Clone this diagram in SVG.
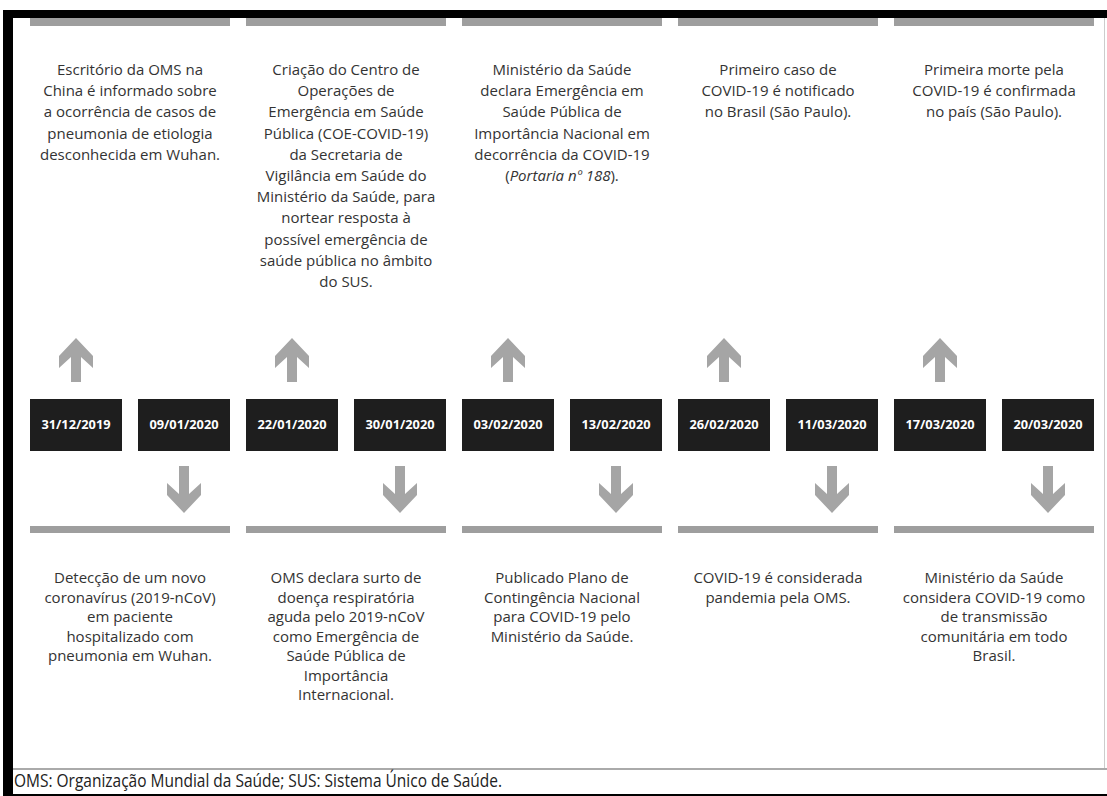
<svg xmlns="http://www.w3.org/2000/svg" xmlns:xlink="http://www.w3.org/1999/xlink" width="1107" height="796" viewBox="0 0 1107 796">
<style>
.t{font-family:"Open Sans","Liberation Sans",sans-serif;font-size:15px;fill:#333;text-anchor:middle}
.b{font-family:"Open Sans","Liberation Sans",sans-serif;font-size:15px;fill:#333;text-anchor:middle}
.d{font-family:"Open Sans","Liberation Sans",sans-serif;font-size:12.8px;font-weight:bold;fill:#fff;text-anchor:middle}
.box{fill:#1e1e1e}
.bar{fill:#9e9e9e}
.arr{fill:#a5a5a5}
.f{font-family:"Open Sans","Liberation Sans",sans-serif;font-size:18px;fill:#222}
</style>
<defs>
<polygon id="up" points="0,0 17,18 17,30 5,19 5,44 -5,44 -5,19 -17,30 -17,18"/>
<polygon id="down" points="-5,0 5,0 5,28 17,17 17,29 0,47 -17,29 -17,17 -5,28"/>
</defs>
<rect x="0" y="0" width="1107" height="796" fill="#fff"/>
<rect x="3" y="10" width="1104" height="8" fill="#000"/>
<rect x="3" y="10" width="10" height="786" fill="#000"/>
<rect x="1104" y="18" width="1" height="750" fill="#ccc"/>
<rect x="13" y="768" width="1094" height="2" fill="#aaa"/>
<rect x="3" y="794" width="1104" height="2" fill="#000"/>
<g id="bars">
<rect class="bar" x="30" y="18" width="200" height="8"/>
<rect class="bar" x="246" y="18" width="200" height="8"/>
<rect class="bar" x="462" y="18" width="200" height="8"/>
<rect class="bar" x="678" y="18" width="200" height="8"/>
<rect class="bar" x="894" y="18" width="200" height="8"/>
<rect class="bar" x="30" y="526" width="200" height="7"/>
<rect class="bar" x="246" y="526" width="200" height="7"/>
<rect class="bar" x="462" y="526" width="200" height="7"/>
<rect class="bar" x="678" y="526" width="200" height="7"/>
<rect class="bar" x="894" y="526" width="200" height="7"/>
</g>
<g id="connectors">
<use xlink:href="#up" class="arr" x="76" y="338"/>
<use xlink:href="#up" class="arr" x="292" y="338"/>
<use xlink:href="#up" class="arr" x="508" y="338"/>
<use xlink:href="#up" class="arr" x="724" y="338"/>
<use xlink:href="#up" class="arr" x="940" y="338"/>
<use xlink:href="#down" class="arr" x="184" y="466"/>
<use xlink:href="#down" class="arr" x="400" y="466"/>
<use xlink:href="#down" class="arr" x="616" y="466"/>
<use xlink:href="#down" class="arr" x="832" y="466"/>
<use xlink:href="#down" class="arr" x="1048" y="466"/>
</g>
<g id="d1"><rect class="box" x="30" y="399" width="92" height="52"/><text class="d" x="76" y="429">31/12/2019</text></g>
<g id="d2"><rect class="box" x="138" y="399" width="92" height="52"/><text class="d" x="184" y="429">09/01/2020</text></g>
<g id="d3"><rect class="box" x="246" y="399" width="92" height="52"/><text class="d" x="292" y="429">22/01/2020</text></g>
<g id="d4"><rect class="box" x="354" y="399" width="92" height="52"/><text class="d" x="400" y="429">30/01/2020</text></g>
<g id="d5"><rect class="box" x="462" y="399" width="92" height="52"/><text class="d" x="508" y="429">03/02/2020</text></g>
<g id="d6"><rect class="box" x="570" y="399" width="92" height="52"/><text class="d" x="616" y="429">13/02/2020</text></g>
<g id="d7"><rect class="box" x="678" y="399" width="92" height="52"/><text class="d" x="724" y="429">26/02/2020</text></g>
<g id="d8"><rect class="box" x="786" y="399" width="92" height="52"/><text class="d" x="832" y="429">11/03/2020</text></g>
<g id="d9"><rect class="box" x="894" y="399" width="92" height="52"/><text class="d" x="940" y="429">17/03/2020</text></g>
<g id="d10"><rect class="box" x="1002" y="399" width="92" height="52"/><text class="d" x="1048" y="429">20/03/2020</text></g>
<g id="top1"><text class="t" y="75"><tspan x="130">Escritório da OMS na</tspan><tspan x="130" dy="21.2">China é informado sobre</tspan><tspan x="130" dy="21.2">a ocorrência de casos de</tspan><tspan x="130" dy="21.2">pneumonia de etiologia</tspan><tspan x="130" dy="21.2">desconhecida em Wuhan.</tspan></text></g>
<g id="top2"><text class="t" y="75"><tspan x="346">Criação do Centro de</tspan><tspan x="346" dy="21.2">Operações de</tspan><tspan x="346" dy="21.2">Emergência em Saúde</tspan><tspan x="346" dy="21.2">Pública (COE-COVID-19)</tspan><tspan x="346" dy="21.2">da Secretaria de</tspan><tspan x="346" dy="21.2">Vigilância em Saúde do</tspan><tspan x="346" dy="21.2">Ministério da Saúde, para</tspan><tspan x="346" dy="21.2">nortear resposta à</tspan><tspan x="346" dy="21.2">possível emergência de</tspan><tspan x="346" dy="21.2">saúde pública no âmbito</tspan><tspan x="346" dy="21.2">do SUS.</tspan></text></g>
<g id="top3"><text class="t" y="75"><tspan x="562">Ministério da Saúde</tspan><tspan x="562" dy="21.2">declara Emergência em</tspan><tspan x="562" dy="21.2">Saúde Pública de</tspan><tspan x="562" dy="21.2">Importância Nacional em</tspan><tspan x="562" dy="21.2">decorrência da COVID-19</tspan><tspan x="562" dy="21.2">(<tspan font-style="italic">Portaria nº 188</tspan>).</tspan></text></g>
<g id="top4"><text class="t" y="75"><tspan x="778">Primeiro caso de</tspan><tspan x="778" dy="21.2">COVID-19 é notificado</tspan><tspan x="778" dy="21.2">no Brasil (São Paulo).</tspan></text></g>
<g id="top5"><text class="t" y="75"><tspan x="994">Primeira morte pela</tspan><tspan x="994" dy="21.2">COVID-19 é confirmada</tspan><tspan x="994" dy="21.2">no país (São Paulo).</tspan></text></g>
<g id="bot1"><text class="b" y="583"><tspan x="130">Detecção de um novo</tspan><tspan x="130" dy="19.5">coronavírus (2019-nCoV)</tspan><tspan x="130" dy="19.5">em paciente</tspan><tspan x="130" dy="19.5">hospitalizado com</tspan><tspan x="130" dy="19.5">pneumonia em Wuhan.</tspan></text></g>
<g id="bot2"><text class="b" y="583"><tspan x="346">OMS declara surto de</tspan><tspan x="346" dy="19.5">doença respiratória</tspan><tspan x="346" dy="19.5">aguda pelo 2019-nCoV</tspan><tspan x="346" dy="19.5">como Emergência de</tspan><tspan x="346" dy="19.5">Saúde Pública de</tspan><tspan x="346" dy="19.5">Importância</tspan><tspan x="346" dy="19.5">Internacional.</tspan></text></g>
<g id="bot3"><text class="b" y="583"><tspan x="562">Publicado Plano de</tspan><tspan x="562" dy="19.5">Contingência Nacional</tspan><tspan x="562" dy="19.5">para COVID-19 pelo</tspan><tspan x="562" dy="19.5">Ministério da Saúde.</tspan></text></g>
<g id="bot4"><text class="b" y="583"><tspan x="778">COVID-19 é considerada</tspan><tspan x="778" dy="19.5">pandemia pela OMS.</tspan></text></g>
<g id="bot5"><text class="b" y="583"><tspan x="994">Ministério da Saúde</tspan><tspan x="994" dy="19.5">considera COVID-19 como</tspan><tspan x="994" dy="19.5">de transmissão</tspan><tspan x="994" dy="19.5">comunitária em todo</tspan><tspan x="994" dy="19.5">Brasil.</tspan></text></g>
<g id="footer"><text class="f" x="14" y="787" textLength="488" lengthAdjust="spacingAndGlyphs">OMS: Organização Mundial da Saúde; SUS: Sistema Único de Saúde.</text></g>
</svg>
